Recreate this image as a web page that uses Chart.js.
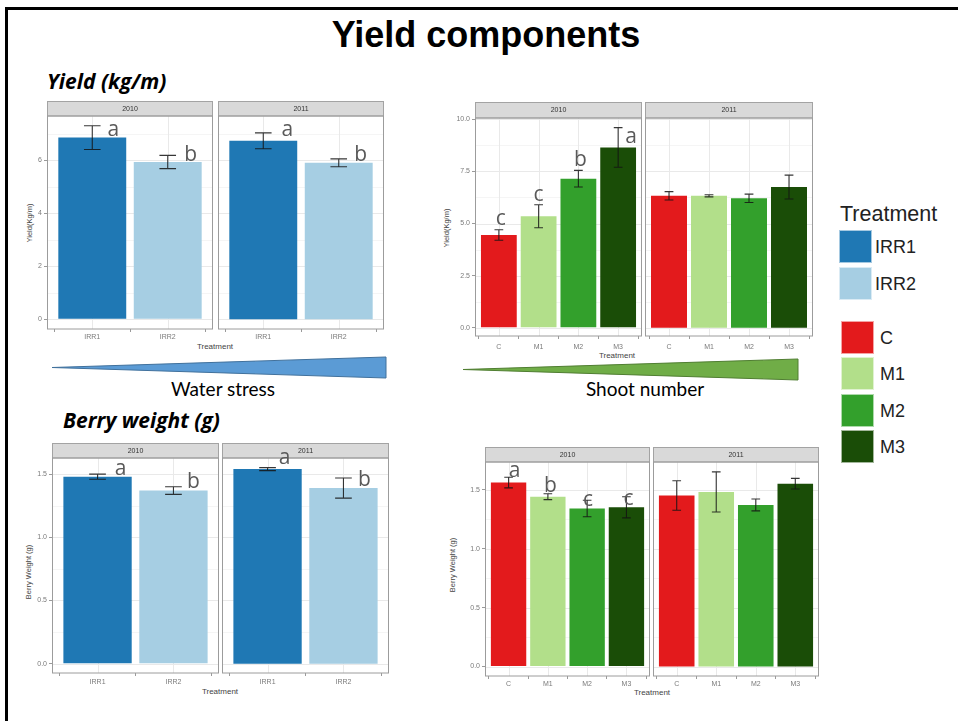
<!DOCTYPE html>
<html lang="en">
<head>
<meta charset="utf-8">
<title>Yield components</title>
<script src="https://cdn.jsdelivr.net/npm/chart.js@4.4.1/dist/chart.umd.min.js"></script>
<style>
  html, body { margin: 0; padding: 0; background: #fff; }
  body { position: relative; width: 958px; height: 721px; overflow: hidden;
         font-family: "Liberation Sans", Arial, sans-serif; }
  .abs { position: absolute; white-space: nowrap; }
  canvas { position: absolute; }
  #frameTop { left: 5px; top: 7px; width: 953px; height: 3px; background: #000; }
  #frameLeft { left: 5px; top: 7px; width: 3px; height: 714px; background: #000; }
  #title { font-weight: bold; font-size: 36px; line-height: 36px; color: #000;
           transform: translateX(-50%); }
  .section { font-family: "Open Sans", Lato, sans-serif; font-weight: bold; font-style: italic;
             font-size: 21px; line-height: 21px; color: #000; }
  .gradient { font-family: Lato, "Open Sans", sans-serif; font-size: 19px; line-height: 19px;
              color: #000; transform: translateX(-50%); }
  .xt { font-size: 8px; line-height: 8px; color: #444; transform: translate(-50%, -50%); }
  .yt { font-size: 7.5px; line-height: 8px; color: #444;
        transform: translate(-50%, -50%) rotate(-90deg); }
  .legTitle { font-size: 21.5px; line-height: 21px; color: #222; }
  .key { position: absolute; width: 33px; height: 33px; box-sizing: border-box;
         border: 1px solid rgba(255,255,255,0.6); }
  .legLab { font-size: 18px; line-height: 18px; color: #222; }
</style>
</head>
<body>
<div id="frameTop" class="abs"></div>
<div id="frameLeft" class="abs"></div>

<div id="title" class="abs" style="left:486px; top:17px;">Yield components</div>
<div class="section abs" style="left:47px; top:71px;">Yield (kg/m)</div>
<div class="section abs" style="left:63px; top:410px;">Berry weight (g)</div>

<svg class="abs" style="left:0; top:0;" width="958" height="721">
  <polygon points="52,367.5 386,357 386,378" fill="#5b9bd5" stroke="#41719c" stroke-width="1"/>
  <polygon points="463,369.5 798,359 798,380" fill="#70ad47" stroke="#507e32" stroke-width="1"/>
</svg>
<div class="gradient abs" style="left:223px; top:379px;">Water stress</div>
<div class="gradient abs" style="left:645px; top:379px;">Shoot number</div>

<!-- axis titles -->
<div class="xt abs" style="left:215px; top:347px;">Treatment</div>
<div class="xt abs" style="left:617px; top:356px;">Treatment</div>
<div class="xt abs" style="left:220px; top:692px;">Treatment</div>
<div class="xt abs" style="left:652px; top:693px;">Treatment</div>
<div class="yt abs" style="left:30px; top:223px;">Yield(Kg/m)</div>
<div class="yt abs" style="left:447px; top:228px;">Yield(Kg/m)</div>
<div class="yt abs" style="left:29px; top:572px;">Berry Weight (g)</div>
<div class="yt abs" style="left:453px; top:565px;">Berry Weight (g)</div>

<!-- legend -->
<div class="legTitle abs" style="left:840px; top:204px;">Treatment</div>
<div id="legend"></div>

<script>
// ---------- categories and tick labels ----------
const years = ['2010', '2011'];
const irrigation = ['IRR1', 'IRR2'];
const shootLevels = ['C', 'M1', 'M2', 'M3'];

const yieldIrrTicks = [0, 2, 4, 6];
const yieldIrrTickLabels = ['0', '2', '4', '6'];
const yieldShootTicks = [0, 2.5, 5, 7.5, 10];
const yieldShootTickLabels = ['0.0', '2.5', '5.0', '7.5', '10.0'];
const berryTicks = [0, 0.5, 1, 1.5];
const berryTickLabels = ['0.0', '0.5', '1.0', '1.5'];

// ---------- yield (kg/m) by irrigation ----------
const yieldIrr2010 = [6.85, 5.93];
const yieldIrr2010Se = [0.45, 0.25];
const yieldIrr2011 = [6.73, 5.90];
const yieldIrr2011Se = [0.30, 0.15];
const yieldIrrLetters2010 = ['a', 'b'];
const yieldIrrLetters2011 = ['a', 'b'];

// ---------- yield (kg/m) by shoot number ----------
const yieldShoot2010 = [4.45, 5.35, 7.15, 8.65];
const yieldShoot2010Se = [0.25, 0.55, 0.40, 0.95];
const yieldShoot2011 = [6.33, 6.33, 6.21, 6.75];
const yieldShoot2011Se = [0.20, 0.05, 0.20, 0.57];
const yieldShootLetters2010 = ['c', 'c', 'b', 'a'];
const yieldShootLetters2011 = [];

// ---------- berry weight (g) by irrigation ----------
const berryIrr2010 = [1.48, 1.37];
const berryIrr2010Se = [0.02, 0.03];
const berryIrr2011 = [1.54, 1.39];
const berryIrr2011Se = [0.012, 0.08];
const berryIrrLetters2010 = ['a', 'b'];
const berryIrrLetters2011 = ['a', 'b'];

// ---------- berry weight (g) by shoot number ----------
const berryShoot2010 = [1.56, 1.44, 1.34, 1.35];
const berryShoot2010Se = [0.045, 0.025, 0.07, 0.09];
const berryShoot2011 = [1.45, 1.48, 1.37, 1.55];
const berryShoot2011Se = [0.125, 0.17, 0.05, 0.045];
const berryShootLetters2010 = ['a', 'b', 'c', 'c'];
const berryShootLetters2011 = [];

// ---------- colours ----------
const irrColors = ['#1f78b4', '#a6cee3'];
const shootColors = ['#e31a1c', '#b2df8a', '#33a02c', '#1a4d07'];

// ---------- page layout of each faceted figure ----------
const figures = {
  yieldIrr:   { yMin: -0.365, yMax: 7.665, stripTop: 101, stripBottom: 116, bottom: 329,
                panels: [[47, 213], [218, 384]], xPad: 1,
                nudge: [[[21, 10], [23, 6]], [[24, 3], [22, 2]]] },
  yieldShoot: { yMin: -0.39, yMax: 10.06, stripTop: 102, stripBottom: 118, bottom: 336,
                panels: [[475, 642], [645, 813]], xPad: 4,
                nudge: [[[2, -5], [0, -4], [2, -4], [13, 15]], []] },
  berryIrr:   { yMin: -0.074, yMax: 1.628, stripTop: 443, stripBottom: 458, bottom: 673,
                panels: [[52, 219], [222, 389]], xPad: 2,
                nudge: [[[23, 1], [20, 1]], [[17, -4], [21, 8]]] },
  berryShoot: { yMin: -0.08, yMax: 1.734, stripTop: 447, stripBottom: 462, bottom: 676,
                panels: [[485, 650], [653, 819]], xPad: 1,
                nudge: [[[6, 0], [2.5, -2], [1, 6], [2, 8]], []] }
};

const TICK_FONT = { family: '"Liberation Sans", Arial, sans-serif', size: 7 };

// strip, panel grid, error bars, significance letters, panel border
const facetPlugin = {
  id: 'facet',
  beforeDatasetsDraw(chart, args, o) {
    const { ctx, chartArea: a, scales: { x, y } } = chart;
    ctx.save();
    ctx.beginPath();
    ctx.rect(a.left, a.top, a.width, a.height);
    ctx.clip();
    // minor horizontal grid: halfway between major breaks
    const t = o.yTicks;
    const step = t[1] - t[0];
    ctx.strokeStyle = '#f3f3f3';
    ctx.lineWidth = 0.8;
    for (let i = 0; i < t.length; i++) {
      const v = t[i] + step / 2;
      const py = Math.round(y.getPixelForValue(v)) + 0.5;
      ctx.beginPath(); ctx.moveTo(a.left, py); ctx.lineTo(a.right, py); ctx.stroke();
    }
    // major grid
    ctx.strokeStyle = '#e9e9e9';
    ctx.lineWidth = 1;
    t.forEach(v => {
      const py = Math.round(y.getPixelForValue(v)) + 0.5;
      ctx.beginPath(); ctx.moveTo(a.left, py); ctx.lineTo(a.right, py); ctx.stroke();
    });
    o.categories.forEach((c, i) => {
      const px = Math.round(x.getPixelForValue(i)) + 0.5;
      ctx.beginPath(); ctx.moveTo(px, a.top); ctx.lineTo(px, a.bottom); ctx.stroke();
    });
    ctx.restore();
  },
  afterDatasetsDraw(chart, args, o) {
    const { ctx, scales: { x, y } } = chart;
    const meta = chart.getDatasetMeta(0);
    const values = chart.data.datasets[0].data;
    const capHalf = Math.abs(x.getPixelForValue(0.11) - x.getPixelForValue(0));
    ctx.save();
    ctx.strokeStyle = 'rgba(20,20,20,0.85)';
    ctx.lineWidth = 1.1;
    meta.data.forEach((bar, i) => {
      const v = values[i].y, e = o.se[i];
      const top = y.getPixelForValue(v + e);
      const bot = y.getPixelForValue(v - e);
      const cx = bar.x;
      ctx.beginPath();
      ctx.moveTo(cx, top); ctx.lineTo(cx, bot);
      ctx.moveTo(cx - capHalf, top); ctx.lineTo(cx + capHalf, top);
      ctx.moveTo(cx - capHalf, bot); ctx.lineTo(cx + capHalf, bot);
      ctx.stroke();
    });
    ctx.restore();
  },
  afterDraw(chart, args, o) {
    const { ctx, chartArea: a, scales: { y } } = chart;
    ctx.save();
    // strip
    ctx.fillStyle = '#d9d9d9';
    ctx.fillRect(a.left, 0, a.width, a.top);
    ctx.strokeStyle = '#a3a3a3';
    ctx.lineWidth = 1;
    ctx.strokeRect(a.left + 0.5, 0.5, a.width - 1, a.top - 0.5);
    ctx.fillStyle = '#333';
    ctx.font = '7px "Liberation Sans", Arial, sans-serif';
    ctx.textAlign = 'center';
    ctx.textBaseline = 'middle';
    ctx.fillText(o.year, (a.left + a.right) / 2, a.top / 2 + 0.5);
    // panel border
    ctx.strokeStyle = '#9c9c9c';
    ctx.strokeRect(a.left + 0.5, a.top, a.width - 1, a.height);
    // significance letters, placed from each bar's upper error limit
    const meta = chart.getDatasetMeta(0);
    const values = chart.data.datasets[0].data;
    ctx.fillStyle = '#595959';
    ctx.font = '21px "Open Sans", "Noto Sans", sans-serif';
    ctx.textAlign = 'center';
    ctx.textBaseline = 'alphabetic';
    (o.letters || []).forEach((s, i) => {
      const bar = meta.data[i];
      const nd = (o.nudge && o.nudge[i]) || [0, 0];
      const top = y.getPixelForValue(values[i].y + o.se[i]);
      ctx.fillText(s, bar.x + nd[0], top + nd[1]);
    });
    ctx.restore();
  }
};

function makePanel(fig, index, categories, values, se, letters, colors, yTicks, yTickLabels) {
  const [x0, x1] = fig.panels[index];
  const showY = index === 0;
  const axisW = showY ? 30 : 0;
  const axisH = 18;
  const stripH = fig.stripBottom - fig.stripTop;
  const canvas = document.createElement('canvas');
  canvas.width = (x1 - x0) + axisW;
  canvas.height = (fig.bottom - fig.stripTop) + axisH;
  canvas.style.left = (x0 - axisW) + 'px';
  canvas.style.top = fig.stripTop + 'px';
  document.body.appendChild(canvas);

  const n = categories.length;
  new Chart(canvas, {
    type: 'bar',
    data: {
      datasets: [{
        data: values.map((v, i) => ({ x: i, y: v })),
        backgroundColor: colors,
        borderWidth: 0,
        categoryPercentage: 1,
        barPercentage: 0.9
      }]
    },
    options: {
      responsive: false,
      animation: false,
      devicePixelRatio: 1,
      layout: { padding: { top: stripH, left: 0, right: 0, bottom: 0 } },
      plugins: {
        legend: { display: false },
        tooltip: { enabled: false },
        facet: { year: years[index], se, letters, nudge: fig.nudge[index], categories, yTicks }
      },
      scales: {
        x: {
          type: 'linear', min: -0.6, max: n - 0.4, bounds: 'data', offset: false,
          afterBuildTicks: s => { s.ticks = categories.map((c, i) => ({ value: i })); },
          afterFit: s => { s.height = axisH; },
          ticks: { callback: v => categories[v], font: TICK_FONT, color: '#7a7a7a',
                   padding: fig.xPad, maxRotation: 0, autoSkip: false },
          grid: { drawOnChartArea: false, drawTicks: true, tickLength: 3, color: '#9a9a9a' },
          border: { display: false }
        },
        y: {
          type: 'linear', min: fig.yMin, max: fig.yMax, bounds: 'data', display: showY,
          afterBuildTicks: s => { s.ticks = yTicks.map(v => ({ value: v })); },
          afterFit: s => { s.width = axisW; },
          ticks: { callback: (v, i) => yTickLabels[i], font: TICK_FONT, color: '#7a7a7a', padding: 2 },
          grid: { drawOnChartArea: false, drawTicks: true, tickLength: 3, color: '#9a9a9a' },
          border: { display: false }
        }
      }
    },
    plugins: [facetPlugin]
  });
}

// Yield by irrigation
makePanel(figures.yieldIrr, 0, irrigation, yieldIrr2010, yieldIrr2010Se, yieldIrrLetters2010, irrColors, yieldIrrTicks, yieldIrrTickLabels);
makePanel(figures.yieldIrr, 1, irrigation, yieldIrr2011, yieldIrr2011Se, yieldIrrLetters2011, irrColors, yieldIrrTicks, yieldIrrTickLabels);
// Yield by shoot number
makePanel(figures.yieldShoot, 0, shootLevels, yieldShoot2010, yieldShoot2010Se, yieldShootLetters2010, shootColors, yieldShootTicks, yieldShootTickLabels);
makePanel(figures.yieldShoot, 1, shootLevels, yieldShoot2011, yieldShoot2011Se, yieldShootLetters2011, shootColors, yieldShootTicks, yieldShootTickLabels);
// Berry weight by irrigation
makePanel(figures.berryIrr, 0, irrigation, berryIrr2010, berryIrr2010Se, berryIrrLetters2010, irrColors, berryTicks, berryTickLabels);
makePanel(figures.berryIrr, 1, irrigation, berryIrr2011, berryIrr2011Se, berryIrrLetters2011, irrColors, berryTicks, berryTickLabels);
// Berry weight by shoot number
makePanel(figures.berryShoot, 0, shootLevels, berryShoot2010, berryShoot2010Se, berryShootLetters2010, shootColors, berryTicks, berryTickLabels);
makePanel(figures.berryShoot, 1, shootLevels, berryShoot2011, berryShoot2011Se, berryShootLetters2011, shootColors, berryTicks, berryTickLabels);

// ---------- legend ----------
const legendKeys = [
  { label: irrigation[0], color: irrColors[0], box: [839, 230], text: [875, 238] },
  { label: irrigation[1], color: irrColors[1], box: [839, 267], text: [875, 275] },
  { label: shootLevels[0], color: shootColors[0], box: [841, 321], text: [880, 329] },
  { label: shootLevels[1], color: shootColors[1], box: [841, 357], text: [880, 365] },
  { label: shootLevels[2], color: shootColors[2], box: [841, 394], text: [880, 402] },
  { label: shootLevels[3], color: shootColors[3], box: [841, 430], text: [880, 438] }
];
const legend = document.getElementById('legend');
legendKeys.forEach(k => {
  const sw = document.createElement('div');
  sw.className = 'key';
  sw.style.left = k.box[0] + 'px';
  sw.style.top = k.box[1] + 'px';
  sw.style.background = k.color;
  legend.appendChild(sw);
  const lab = document.createElement('div');
  lab.className = 'legLab abs';
  lab.style.left = k.text[0] + 'px';
  lab.style.top = k.text[1] + 'px';
  lab.textContent = k.label;
  legend.appendChild(lab);
});
</script>
</body>
</html>
